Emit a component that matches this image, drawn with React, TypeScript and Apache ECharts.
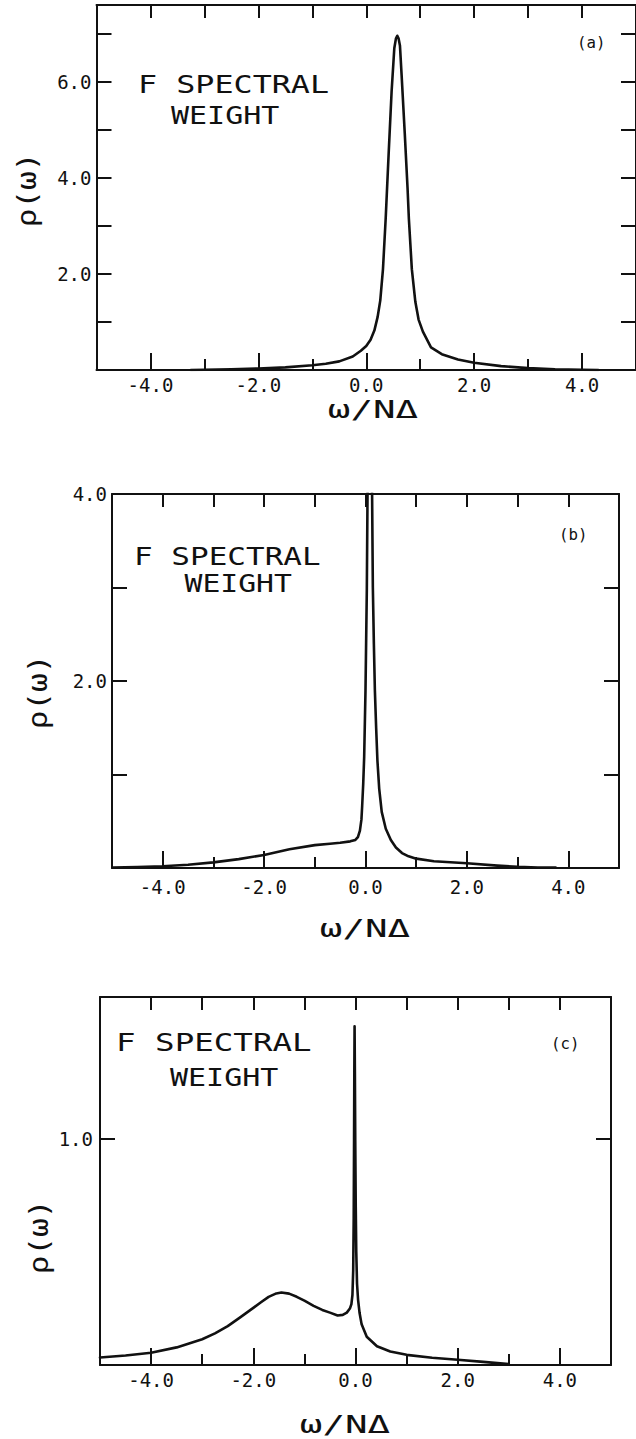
import React, { useEffect, useRef } from "react";
import * as echarts from "echarts";

// ---------- data ----------
const omegaA = [-3.25, -3.0, -2.5, -2.0, -1.5, -1.0, -0.75, -0.5, -0.25, -0.1, 0.0, 0.08, 0.15, 0.21, 0.26, 0.31, 0.36, 0.415, 0.47, 0.52, 0.55, 0.575, 0.6, 0.625, 0.655, 0.715, 0.765, 0.79, 0.845, 0.91, 0.97, 1.05, 1.2, 1.4, 1.7, 2.0, 2.5, 3.0, 3.5, 4.0, 4.3];
const rhoA = [0.0, 0.005, 0.015, 0.03, 0.055, 0.1, 0.13, 0.18, 0.28, 0.4, 0.5, 0.63, 0.82, 1.1, 1.45, 2.1, 3.15, 4.5, 5.8, 6.7, 6.9, 6.96, 6.9, 6.75, 6.15, 4.9, 3.8, 3.15, 2.1, 1.42, 1.05, 0.8, 0.47, 0.33, 0.22, 0.15, 0.08, 0.04, 0.015, 0.005, 0.0];

const omegaB = [-4.98, -4.5, -4.0, -3.5, -3.0, -2.5, -2.0, -1.5, -1.0, -0.7, -0.5, -0.3, -0.2, -0.15, -0.11, -0.08, -0.066, -0.045, -0.026, 0.0, 0.026, 0.04, 0.085, 0.13, 0.145, 0.165, 0.185, 0.21, 0.235, 0.27, 0.32, 0.4, 0.5, 0.6, 0.72, 0.85, 1.0, 1.35, 2.0, 2.6, 3.0, 3.4, 3.75];
const rhoB = [0.005, 0.01, 0.018, 0.035, 0.06, 0.095, 0.14, 0.2, 0.245, 0.26, 0.27, 0.285, 0.3, 0.33, 0.4, 0.52, 0.66, 0.9, 1.19, 1.9, 2.97, 4.0, 4.6, 4.0, 3.0, 2.4, 1.9, 1.5, 1.15, 0.85, 0.6, 0.42, 0.3, 0.22, 0.16, 0.125, 0.1, 0.072, 0.05, 0.025, 0.012, 0.006, 0.004];

const omegaC = [-5.0, -4.5, -4.0, -3.5, -3.0, -2.75, -2.5, -2.25, -2.0, -1.85, -1.7, -1.55, -1.45, -1.3, -1.15, -1.0, -0.82, -0.65, -0.5, -0.35, -0.25, -0.17, -0.11, -0.08, -0.06, -0.045, -0.035, -0.028, -0.023, -0.018, -0.012, -0.005, 0.005, 0.015, 0.03, 0.05, 0.08, 0.12, 0.22, 0.42, 0.68, 1.0, 1.5, 2.0, 2.5, 3.0];
const rhoC = [0.033, 0.042, 0.054, 0.078, 0.114, 0.14, 0.172, 0.212, 0.253, 0.278, 0.302, 0.317, 0.321, 0.316, 0.302, 0.285, 0.262, 0.244, 0.232, 0.219, 0.222, 0.232, 0.25, 0.27, 0.31, 0.42, 0.65, 1.0, 1.3, 1.5, 1.3, 1.0, 0.7, 0.5, 0.36, 0.29, 0.23, 0.18, 0.125, 0.083, 0.06, 0.045, 0.032, 0.023, 0.014, 0.004];

const xMajorTicks = [-4, -2, 0, 2, 4];
const xMinorTicks = [-3, -1, 1, 3];
const xTopTicks = [-4, -3, -2, -1, 0, 1, 2, 3, 4];
const xMin = -5;
const xMax = 5;

const yTicksA = [1, 2, 3, 4, 5, 6, 7];
const yLabelsA = [2, 4, 6];
const yTicksB = [1, 2, 3];
const yLabelsB = [2, 4];
const yTicksC = [1];
const yLabelsC = [1];
const yMaxA = 7.6;
const yMaxB = 4.0;
const yMaxC = 1.63;

const panelTags = ["(a)", "(b)", "(c)"];
const titleLine1 = "F SPECTRAL";
const titleLine2 = "WEIGHT";
const xName = "ω/NΔ";
const yName = "ρ(ω)";

// ---------- layout / style (kept separate from data) ----------
const INK = "#111";
const MONO = "'DejaVu Sans Mono', 'Liberation Mono', monospace";

const layouts = [
  {
    grid: { left: 96.5, top: 5, width: 543, height: 365 },
    xLabelMargin: 5, yLabelMargin: 5,
    t1: { x: 138, y: 84, sx: 1.27 }, t2: { x: 171, y: 115, sx: 1.2 },
    tag: { x: 577, y: 43 }, yn: { x: 27, y: 190 }, xn: { x: 373, y: 409 },
  },
  {
    grid: { left: 112, top: 494, width: 507, height: 374 },
    xLabelMargin: 9, yLabelMargin: 5,
    t1: { x: 134, y: 557, sx: 1.24 }, t2: { x: 184.5, y: 583, sx: 1.19 },
    tag: { x: 559, y: 535 }, yn: { x: 38, y: 692 }, xn: { x: 365, y: 928 },
  },
  {
    grid: { left: 100, top: 997, width: 511, height: 368 },
    xLabelMargin: 5, yLabelMargin: 7,
    t1: { x: 116, y: 1042.5, sx: 1.3 }, t2: { x: 170, y: 1077, sx: 1.2 },
    tag: { x: 551, y: 1044 }, yn: { x: 39, y: 1237 }, xn: { x: 345, y: 1424 },
  },
];

const panelData = [
  { omega: omegaA, rho: rhoA, yMax: yMaxA, yTicks: yTicksA, yLabels: yLabelsA },
  { omega: omegaB, rho: rhoB, yMax: yMaxB, yTicks: yTicksB, yLabels: yLabelsB },
  { omega: omegaC, rho: rhoC, yMax: yMaxC, yTicks: yTicksC, yLabels: yLabelsC },
];

function textEl(text: string, x: number, y: number, size: number, sx: number, align: string, rotation = 0) {
  return {
    type: "text",
    x,
    y,
    scaleX: sx,
    rotation,
    z: 10,
    silent: true,
    style: {
      text,
      fill: INK,
      font: `${size}px ${MONO}`,
      align,
      verticalAlign: "middle",
      textAlign: align,
      textVerticalAlign: "middle",
    },
  };
}

function buildOption() {
  const grids: any[] = [];
  const xAxes: any[] = [];
  const yAxes: any[] = [];
  const series: any[] = [];
  const graphics: any[] = [];
  const lineStyle = { color: INK, width: 2 };

  panelData.forEach((p, i) => {
    const L = layouts[i];
    grids.push({ ...L.grid, containLabel: false });
    xAxes.push({
      type: "value", gridIndex: i, position: "bottom", min: xMin, max: xMax,
      axisLine: { show: true, onZero: false, lineStyle },
      axisTick: { show: true, inside: true, length: 17, customValues: xMajorTicks, lineStyle },
      axisLabel: {
        show: true, customValues: xMajorTicks, margin: L.xLabelMargin,
        formatter: (v: number) => v.toFixed(1),
        fontFamily: MONO, fontSize: 19, color: INK,
      },
      splitLine: { show: false },
    });
    xAxes.push({
      type: "value", gridIndex: i, position: "bottom", min: xMin, max: xMax,
      axisLine: { show: false, onZero: false },
      axisTick: { show: true, inside: true, length: 11, customValues: xMinorTicks, lineStyle },
      axisLabel: { show: false },
      splitLine: { show: false },
    });
    xAxes.push({
      type: "value", gridIndex: i, position: "top", min: xMin, max: xMax,
      axisLine: { show: true, onZero: false, lineStyle },
      axisTick: { show: true, inside: true, length: 13, customValues: xTopTicks, lineStyle },
      axisLabel: { show: false },
      splitLine: { show: false },
    });
    yAxes.push({
      type: "value", gridIndex: i, position: "left", min: 0, max: p.yMax,
      axisLine: { show: true, onZero: false, lineStyle },
      axisTick: { show: true, inside: true, length: 15, customValues: p.yTicks, lineStyle },
      axisLabel: {
        show: true, customValues: p.yLabels, margin: L.yLabelMargin,
        formatter: (v: number) => v.toFixed(1),
        fontFamily: MONO, fontSize: 19, color: INK,
      },
      splitLine: { show: false },
    });
    yAxes.push({
      type: "value", gridIndex: i, position: "right", min: 0, max: p.yMax,
      axisLine: { show: true, onZero: false, lineStyle },
      axisTick: { show: true, inside: true, length: 15, customValues: p.yTicks, lineStyle },
      axisLabel: { show: false },
      splitLine: { show: false },
    });

    series.push({
      type: "line",
      xAxisIndex: i * 3,
      yAxisIndex: i * 2,
      data: p.omega.map((w, k) => [w, p.rho[k]]),
      showSymbol: false,
      symbol: "none",
      smooth: false,
      clip: true,
      silent: true,
      lineStyle: { color: INK, width: 2.6, join: "round", cap: "round" },
    });

    graphics.push(textEl(titleLine1, L.t1.x, L.t1.y, 25, L.t1.sx, "left"));
    graphics.push(textEl(titleLine2, L.t2.x, L.t2.y, 25, L.t2.sx, "left"));
    graphics.push(textEl(panelTags[i], L.tag.x, L.tag.y, 15, 1.05, "left"));
    graphics.push(textEl(yName, L.yn.x, L.yn.y, 26, 1.2, "center", Math.PI / 2));
    graphics.push(textEl(xName, L.xn.x, L.xn.y, 25, 1.5, "center"));
  });

  return {
    animation: false,
    backgroundColor: "#fff",
    grid: grids,
    xAxis: xAxes,
    yAxis: yAxes,
    series,
    graphic: graphics,
  };
}

export default function App() {
  const ref = useRef<HTMLDivElement>(null);
  useEffect(() => {
    if (!ref.current) return;
    const chart = echarts.init(ref.current, undefined, { renderer: "svg" });
    chart.setOption(buildOption() as any);
    return () => chart.dispose();
  }, []);
  return (
    <div
      ref={ref}
      style={{ position: "absolute", left: 0, top: 0, width: 636, height: 1439, background: "#fff" }}
    />
  );
}
